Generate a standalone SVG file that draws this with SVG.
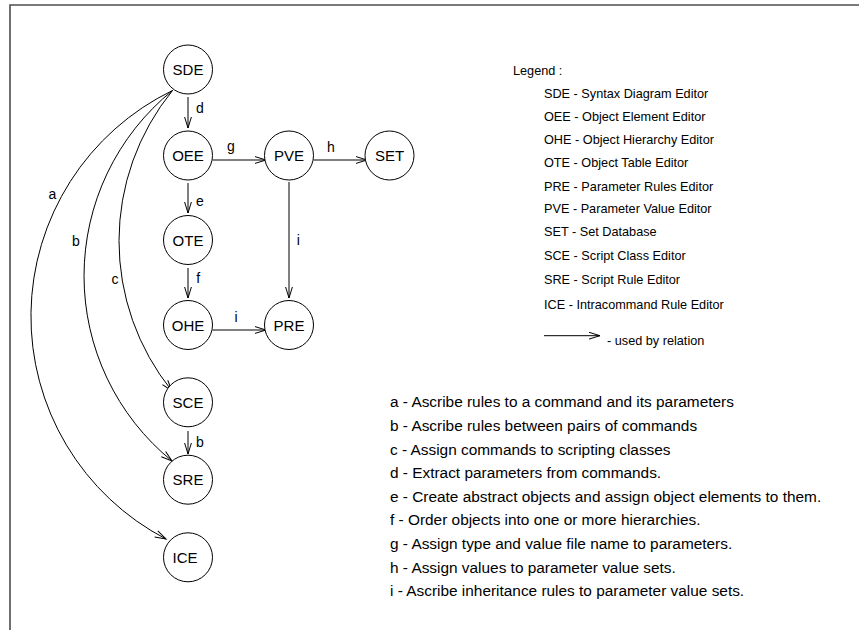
<svg xmlns="http://www.w3.org/2000/svg" width="859" height="630" viewBox="0 0 859 630">
<style>
.node circle{fill:#fff;stroke:#000;stroke-width:1}
.node text{font-family:"Liberation Sans",Arial,sans-serif;font-size:15px;text-anchor:middle;fill:#000}
.edge{fill:none;stroke:#000;stroke-width:1;marker-end:url(#arr)}
.lbl{font-family:"Liberation Sans",Arial,sans-serif;font-size:14px;text-anchor:middle;fill:#000}
.leg{font-family:"Liberation Sans",Arial,sans-serif;font-size:12.7px;fill:#000}
.desc{font-family:"Liberation Sans",Arial,sans-serif;font-size:15.4px;fill:#000}
</style>
<defs>
<marker id="arr" markerUnits="userSpaceOnUse" markerWidth="14" markerHeight="12" refX="11" refY="5" orient="auto" overflow="visible">
<path d="M0,1.6 L11,5 L0,8.4" fill="none" stroke="#000" stroke-width="1"/>
</marker>
</defs>
<rect width="859" height="630" fill="#fff"/>
<g id="frame" stroke="#4d4d4d" stroke-width="1.6" fill="none">
<path d="M10,630 L10,5 L859,5"/>
</g>
<g id="connectors">
<path class="edge" d="M188,97 L188,128"/>
<path class="edge" d="M188,183 L188,213"/>
<path class="edge" d="M188,268 L188,298"/>
<path class="edge" d="M212.5,160 L266,160"/>
<path class="edge" d="M313.5,160 L367,160"/>
<path class="edge" d="M289,182 L289,298"/>
<path class="edge" d="M212.5,330 L266,330"/>
<path class="edge" d="M188,431 L188,454"/>
<path class="edge" d="M172.5,90.5 A251,251 0 0,0 166,539"/>
<path class="edge" d="M172.5,90.5 A238.6,238.6 0 0,0 172,461"/>
<path class="edge" d="M172.5,90.5 A238.6,238.6 0 0,0 172,391"/>
<text class="lbl" x="52.3" y="199">a</text>
<text class="lbl" x="76" y="245.7">b</text>
<text class="lbl" x="115" y="284">c</text>
<text class="lbl" x="200" y="113">d</text>
<text class="lbl" x="200" y="205.5">e</text>
<text class="lbl" x="198.3" y="283">f</text>
<text class="lbl" x="231" y="151">g</text>
<text class="lbl" x="331" y="152">h</text>
<text class="lbl" x="298.3" y="245">i</text>
<text class="lbl" x="236" y="321.7">i</text>
<text class="lbl" x="200" y="446.7">b</text>
</g>
<g id="SDE" class="node"><circle cx="188" cy="69.5" r="24.5"/><text x="188" y="75">SDE</text></g>
<g id="OEE" class="node"><circle cx="188" cy="155.5" r="24.5"/><text x="188" y="161">OEE</text></g>
<g id="PVE" class="node"><circle cx="289" cy="155.5" r="24.5"/><text x="289" y="161">PVE</text></g>
<g id="SET" class="node"><circle cx="389.5" cy="155.5" r="24.5"/><text x="389.5" y="161">SET</text></g>
<g id="OTE" class="node"><circle cx="188" cy="240" r="24.5"/><text x="188" y="245.5">OTE</text></g>
<g id="OHE" class="node"><circle cx="188" cy="325" r="24.5"/><text x="188" y="330.5">OHE</text></g>
<g id="PRE" class="node"><circle cx="289" cy="325" r="24.5"/><text x="289" y="330.5">PRE</text></g>
<g id="SCE" class="node"><circle cx="188" cy="402.3" r="24.5"/><text x="188" y="407.8">SCE</text></g>
<g id="SRE" class="node"><circle cx="188" cy="479.7" r="24.5"/><text x="188" y="485.2">SRE</text></g>
<g id="ICE" class="node"><circle cx="188" cy="557.3" r="24.5"/><text x="185" y="562.8">ICE</text></g>
<g id="legend">
<text class="leg" x="513" y="74.5">Legend :</text>
<text class="leg" x="544" y="98">SDE - Syntax Diagram Editor</text>
<text class="leg" x="544" y="120.7">OEE - Object Element Editor</text>
<text class="leg" x="544" y="144">OHE - Object Hierarchy Editor</text>
<text class="leg" x="544" y="167.4">OTE - Object Table Editor</text>
<text class="leg" x="544" y="190.7">PRE - Parameter Rules Editor</text>
<text class="leg" x="544" y="213">PVE - Parameter Value Editor</text>
<text class="leg" x="544" y="236.4">SET - Set Database</text>
<text class="leg" x="544" y="260.4">SCE - Script Class Editor</text>
<text class="leg" x="544" y="284">SRE - Script Rule Editor</text>
<text class="leg" x="544" y="309">ICE - Intracommand Rule Editor</text>
<path class="edge" d="M544,335.7 L600,335.7"/>
<text class="leg" x="607" y="344.5">- used by relation</text>
</g>
<g id="descriptions">
<text class="desc" x="390" y="407.3">a - Ascribe rules to a command and its parameters</text>
<text class="desc" x="390" y="430.9">b - Ascribe rules between pairs of commands</text>
<text class="desc" x="390" y="454.5">c - Assign commands to scripting classes</text>
<text class="desc" x="390" y="478.1">d - Extract parameters from commands.</text>
<text class="desc" x="390" y="501.7">e - Create abstract objects and assign object elements to them.</text>
<text class="desc" x="390" y="525.3">f - Order objects into one or more hierarchies.</text>
<text class="desc" x="390" y="548.9">g - Assign type and value file name to parameters.</text>
<text class="desc" x="390" y="572.5">h - Assign values to parameter value sets.</text>
<text class="desc" x="390" y="596.1">i - Ascribe inheritance rules to parameter value sets.</text>
</g>
</svg>
